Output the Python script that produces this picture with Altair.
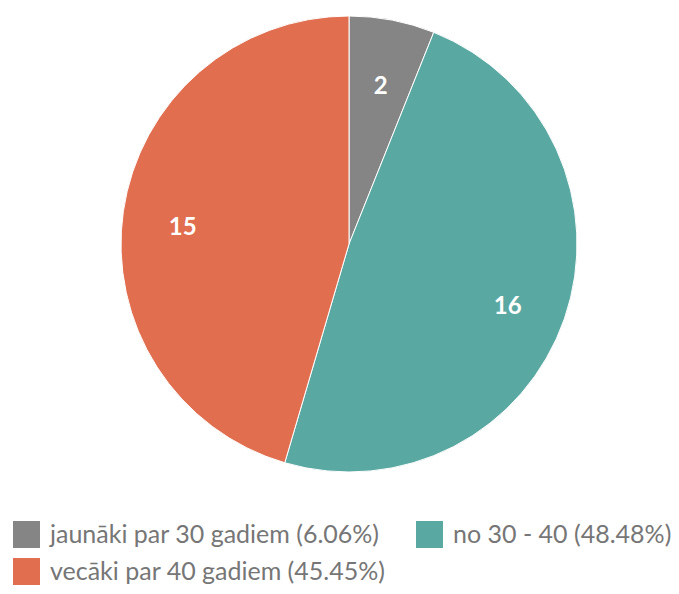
import altair as alt
import pandas as pd

categories = ["jaunāki par 30 gadiem (6.06%)", "no 30 - 40 (48.48%)", "vecāki par 40 gadiem (45.45%)"]
values = [2, 16, 15]
colors = ["#858585", "#5aa8a2", "#e06e4f"]

df = pd.DataFrame({"cat": categories, "value": values, "order": list(range(len(values)))})

cx, cy = 341, 236

base = alt.Chart(df).encode(
    theta=alt.Theta("value:Q", stack=True),
    order=alt.Order("order:Q"),
    x=alt.value(cx),
    y=alt.value(cy),
)

arcs = base.mark_arc(radius=228, stroke="#ffffff", strokeWidth=1).encode(
    color=alt.Color(
        "cat:N",
        scale=alt.Scale(domain=categories, range=colors),
        legend=alt.Legend(
            title=None,
            orient="none",
            legendX=5,
            legendY=513,
            direction="horizontal",
            columns=2,
            columnPadding=30,
            rowPadding=10,
            symbolType="square",
            symbolSize=729,
            symbolStrokeWidth=0,
            labelFont="Lato",
            labelFontSize=25,
            labelColor="#767676",
            labelOffset=10,
            labelLimit=600,
        ),
    )
)

labels = base.mark_text(radius=168, dy=8, font="Lato", fontSize=24, fontWeight="bold", color="white").encode(
    text=alt.Text("value:Q")
)

chart = (arcs + labels).properties(
    width=663, height=578, autosize=alt.AutoSizeParams(type="none"), padding=0
).configure_view(stroke=None)

chart.save("out.html", embed_options={"renderer": "svg", "actions": False})
